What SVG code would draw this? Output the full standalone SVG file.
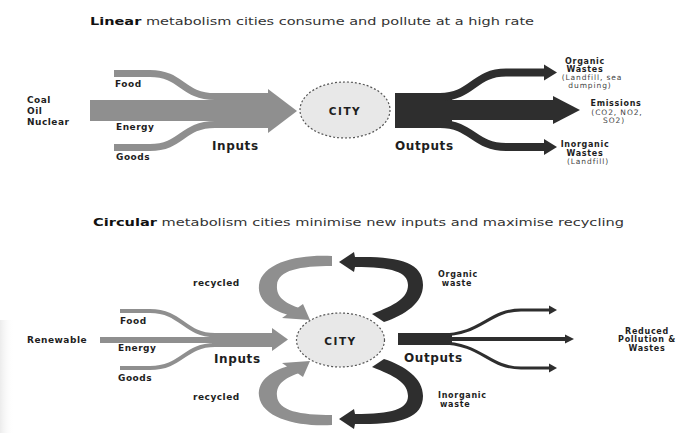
<svg xmlns="http://www.w3.org/2000/svg" width="680" height="433" viewBox="0 0 680 433">
<style>
text{font-family:"DejaVu Sans","Liberation Sans",sans-serif;fill:#1e1e1e}
.t{font-size:10px;fill:#333}
.tb{font-weight:bold;fill:#111}
.lb{font-weight:bold;font-size:9px;letter-spacing:0.5px}
.st{font-weight:bold;font-size:8px;letter-spacing:0.7px}
.big{font-weight:bold;font-size:12px;letter-spacing:0.6px}
.sm{font-size:7.5px;letter-spacing:0.9px;fill:#444}
.c{text-anchor:middle}
.city{fill:#e8e8e8;stroke:#555;stroke-width:1.2;stroke-dasharray:2 2}
.gray{fill:#8f8f8f}
.grays{fill:none;stroke:#8f8f8f}
.dark{fill:#2e2e2e}
.darks{fill:none;stroke:#2e2e2e}
</style>
<defs>
<linearGradient id="shade" x1="0" x2="1" y1="0" y2="0">
<stop offset="0" stop-color="#c8c8c8"/>
<stop offset="1" stop-color="#ffffff" stop-opacity="0"/>
</linearGradient>
</defs>
<rect width="680" height="433" fill="#ffffff"/>
<rect x="0" y="320" width="14" height="113" fill="url(#shade)" opacity="0.35"/>

<!-- titles -->
<text class="t" x="90" y="25" textLength="444" lengthAdjust="spacingAndGlyphs"><tspan class="tb">Linear</tspan> metabolism cities consume and pollute at a high rate</text>
<text class="t" x="93" y="226" textLength="531" lengthAdjust="spacingAndGlyphs"><tspan class="tb">Circular</tspan> metabolism cities minimise new inputs and maximise recycling</text>

<!-- connectors -->
<g id="connectors">
  <g id="linear-inputs">
    <path class="grays" stroke-width="7" d="M114,73.5 H150 C182,73.5 182,96.5 215,96.5 H270"/>
    <path class="grays" stroke-width="7" d="M114,147.5 H150 C182,147.5 182,124.5 215,124.5 H270"/>
    <rect class="gray" x="90" y="100" width="180" height="21"/>
    <polygon class="gray" points="268,89 297,111 268,133"/>
  </g>
  <g id="linear-outputs">
    <rect class="dark" x="395" y="93" width="57" height="35"/>
    <rect class="dark" x="450" y="100" width="104" height="20"/>
    <polygon class="dark" points="553,96 580,110 553,124"/>
    <path class="darks" stroke-width="8" d="M440,97 C472,97 474,72.5 506,72.5 H546"/>
    <polygon class="dark" points="544,64.5 557,72.5 544,80.5"/>
    <path class="darks" stroke-width="8" d="M440,124 C472,124 474,147 506,147 H546"/>
    <polygon class="dark" points="544,139 557,147 544,155"/>
  </g>
  <g id="circular-inputs">
    <path class="grays" stroke-width="4" d="M120,311 H150 C182,311 184,335 215,335 H273"/>
    <path class="grays" stroke-width="4" d="M120,368 H150 C182,368 184,345 215,345 H273"/>
    <rect class="gray" x="100" y="337" width="173" height="6"/>
    <rect class="gray" x="212" y="333" width="62" height="14"/>
    <polygon class="gray" points="272,328 288,339.5 272,351"/>
  </g>
  <g id="circular-outputs">
    <rect class="dark" x="398" y="333" width="54" height="12"/>
    <path class="darks" stroke-width="4" d="M450,339 H566"/>
    <polygon class="dark" points="565,334.5 574,339 565,343.5"/>
    <path class="darks" stroke-width="3" d="M440,335 C482,335 488,310 521,310 H550"/>
    <polygon class="dark" points="549,305.5 557,310 549,314.5"/>
    <path class="darks" stroke-width="3" d="M440,343 C482,343 488,368 521,368 H550"/>
    <polygon class="dark" points="549,363.5 557,368 549,372.5"/>
  </g>
  <g id="loops">
    <path class="gray" d="M332,256 C300,254 262,262 259,285 C257,302 275,311 287,314.5 L282,318 L310,320 L303,304 L298,307.5 C285,303 276,297 277,285 C278,270 300,266 332,266 Z"/>
    <path class="gray" d="M332,425 C300,427 262,419 259,396 C257,379 275,370 287,366.5 L282,363 L310,361 L303,377 L298,373.5 C285,378 276,384 277,396 C278,411 300,415 332,415 Z"/>
    <path class="dark" d="M372,314 C395,305 408,298 408,285 C408,272 392,267 355,267 L354,272 L339,262 L354,252 L355,257 C398,256 423,262 423,285 C423,303 405,315 384,322 Z"/>
    <path class="dark" d="M372,367 C395,376 408,383 408,396 C408,409 392,414 355,414 L354,409 L339,419 L354,429 L355,424 C398,425 423,419 423,396 C423,378 405,366 384,359 Z"/>
  </g>
</g>

<!-- nodes -->
<g id="city-linear">
  <ellipse class="city" cx="345" cy="110" rx="45" ry="28"/>
  <text class="big c" x="345" y="114.5" style="font-size:10.5px;letter-spacing:1.5px">CITY</text>
</g>
<g id="city-circular">
  <ellipse class="city" cx="340.5" cy="340" rx="44" ry="27"/>
  <text class="big c" x="340.5" y="344.5" style="font-size:10.5px;letter-spacing:1.5px">CITY</text>
</g>

<g id="sources-linear">
  <text class="lb" x="27" y="103">Coal</text>
  <text class="lb" x="27" y="114">Oil</text>
  <text class="lb" x="27" y="124.5">Nuclear</text>
</g>
<g id="inputs-linear">
  <text class="lb" x="115" y="87">Food</text>
  <text class="lb" x="116" y="130">Energy</text>
  <text class="lb" x="116" y="160">Goods</text>
  <text class="big" x="212" y="150">Inputs</text>
</g>
<g id="outputs-linear">
  <text class="big" x="395" y="150">Outputs</text>
</g>
<g id="organic-wastes">
  <text class="st c" x="585" y="63.5">Organic</text>
  <text class="st c" x="585" y="72">Wastes</text>
  <text class="sm c" x="592" y="80">(Landfill, sea</text>
  <text class="sm c" x="590" y="87.5">dumping)</text>
</g>
<g id="emissions">
  <text class="st c" x="616" y="106">Emissions</text>
  <text class="sm c" x="617" y="114.5">(CO2, NO2,</text>
  <text class="sm c" x="614" y="122.5">SO2)</text>
</g>
<g id="inorganic-wastes">
  <text class="st c" x="585" y="147">Inorganic</text>
  <text class="st c" x="585" y="155.5">Wastes</text>
  <text class="sm c" x="588" y="163.5">(Landfill)</text>
</g>

<g id="sources-circular">
  <text class="lb" x="27" y="343">Renewable</text>
</g>
<g id="inputs-circular">
  <text class="lb" x="120" y="324">Food</text>
  <text class="lb" x="118" y="351">Energy</text>
  <text class="lb" x="118" y="381">Goods</text>
  <text class="big" x="214" y="363">Inputs</text>
</g>
<g id="recycled-labels">
  <text class="lb" x="193" y="286">recycled</text>
  <text class="lb" x="193" y="400">recycled</text>
</g>
<g id="outputs-circular">
  <text class="big" x="404" y="362">Outputs</text>
</g>
<g id="organic-waste">
  <text class="st c" x="458" y="277">Organic</text>
  <text class="st c" x="457" y="286">waste</text>
</g>
<g id="inorganic-waste">
  <text class="st" x="438" y="398">Inorganic</text>
  <text class="st" x="440" y="407">waste</text>
</g>
<g id="reduced">
  <text class="st c" x="647" y="333.5">Reduced</text>
  <text class="st c" x="647" y="342">Pollution &amp;</text>
  <text class="st c" x="647" y="350.5">Wastes</text>
</g>
</svg>
